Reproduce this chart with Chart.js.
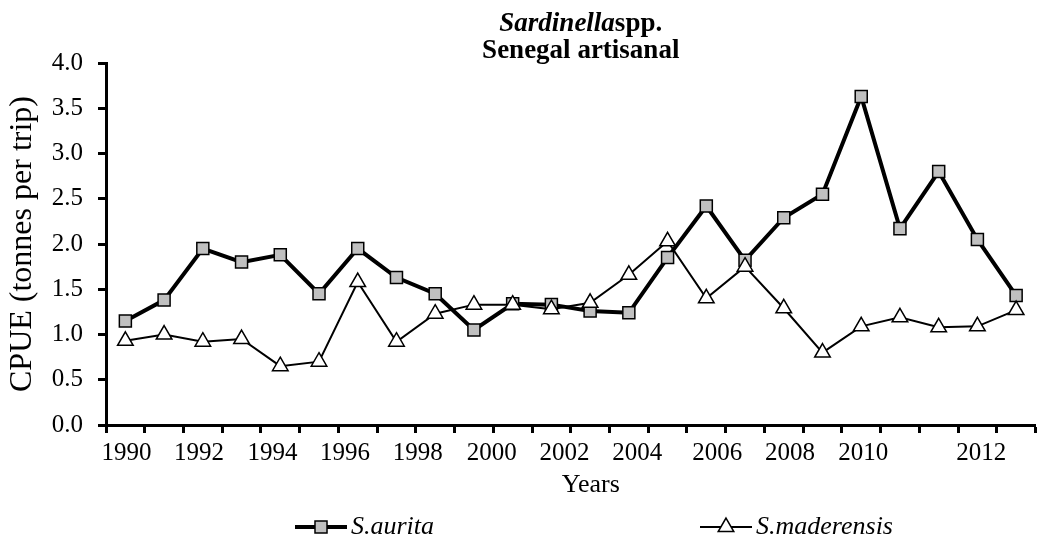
<!DOCTYPE html>
<html>
<head>
<meta charset="utf-8">
<script src="https://cdn.jsdelivr.net/npm/chart.js@4.4.0/dist/chart.umd.min.js"></script>
<style>
  html, body { margin: 0; padding: 0; background: #fff; overflow: hidden; }
  #wrap { width: 1046px; height: 545px; }
</style>
</head>
<body>
<div id="wrap"><canvas id="cpue" width="1046" height="545"></canvas></div>
<script>
// categories (one per year)
const years = ['1990', '1991', '1992', '1993', '1994', '1995', '1996', '1997',
  '1998', '1999', '2000', '2001', '2002', '2003', '2004', '2005',
  '2006', '2007', '2008', '2009', '2010', '2011', '2012', '2013'];

// CPUE, tonnes per trip
const sAurita = [1.15, 1.38, 1.95, 1.80, 1.88, 1.45, 1.95, 1.63, 1.45, 1.05, 1.34, 1.33,
  1.26, 1.24, 1.85, 2.42, 1.82, 2.29, 2.55, 3.63, 2.17, 2.80, 2.05, 1.43];
const sMaderensis = [0.93, 1.00, 0.92, 0.95, 0.65, 0.70, 1.58, 0.92, 1.23, 1.33, 1.33, 1.28,
  1.35, 1.66, 2.03, 1.40, 1.75, 1.29, 0.80, 1.09, 1.19, 1.08, 1.09, 1.27];

// year labels shown under the axis
const tickLabels = ['1990', '1992', '1994', '1996', '1998', '2000',
  '2002', '2004', '2006', '2008', '2010', '2012'];

const serif = '"Liberation Serif", "Times New Roman", serif';
Chart.defaults.font.family = serif;
Chart.defaults.font.size = 25;
Chart.defaults.color = '#000';

// where the year labels sit, in category units (the original spaces them unevenly)
const labelSlots = [0.03, 1.9, 3.8, 5.67, 7.55, 9.46, 11.34, 13.22, 15.28, 17.16, 19.05, 22.1];

// title, x axis name and legend are drawn by hand to get the mixed italics
const decorations = {
  id: 'decorations',
  afterDraw(chart) {
    const { ctx, chartArea } = chart;
    const cx = (chartArea.left + chartArea.right) / 2 + 10;
    ctx.save();
    ctx.fillStyle = '#000';
    ctx.textBaseline = 'middle';

    // line 1: "Sardinella" (italic) + "spp."
    ctx.font = 'italic bold 27px ' + serif;
    const w1 = ctx.measureText('Sardinella').width;
    ctx.font = 'bold 27px ' + serif;
    const w2 = ctx.measureText('spp.').width;
    const x = cx - (w1 + w2) / 2;
    ctx.textAlign = 'left';
    ctx.font = 'italic bold 27px ' + serif;
    ctx.fillText('Sardinella', x, 24);
    ctx.font = 'bold 27px ' + serif;
    ctx.fillText('spp.', x + w1, 24);
    ctx.textAlign = 'center';
    ctx.fillText('Senegal artisanal', cx, 51);

    // axis name
    ctx.font = '26px ' + serif;
    ctx.fillText('Years', cx + 10, 485);

    // legend: line with marker, then italic name
    const starts = [295, 700];
    const ly = 527;
    chart.data.datasets.forEach((ds, i) => {
      const x0 = starts[i];
      ctx.strokeStyle = '#000';
      ctx.lineWidth = ds.borderWidth;
      ctx.beginPath();
      ctx.moveTo(x0, ly);
      ctx.lineTo(x0 + 52, ly);
      ctx.stroke();
      ctx.fillStyle = ds.pointBackgroundColor;
      ctx.lineWidth = ds.pointBorderWidth;
      Chart.helpers.drawPoint(ctx, {
        pointStyle: ds.pointStyle,
        radius: ds.pointRadius,
        rotation: 0,
        borderWidth: ds.pointBorderWidth
      }, x0 + 26, ly);
      ctx.fillStyle = '#000';
      ctx.textAlign = 'left';
      ctx.font = 'italic 26px ' + serif;
      ctx.fillText(ds.label, x0 + 56, ly);
    });
    ctx.restore();
  }
};

new Chart(document.getElementById('cpue'), {
  type: 'line',
  data: {
    labels: years,
    datasets: [
      {
        label: 'S.aurita',
        data: sAurita,
        xAxisID: 'x',
        yAxisID: 'y',
        borderColor: '#000',
        borderWidth: 4,
        pointStyle: 'rect',
        pointRadius: 8.5,
        pointBackgroundColor: '#c0c0c0',
        pointBorderColor: '#000',
        pointBorderWidth: 1.5,
        order: 2
      },
      {
        label: 'S.maderensis',
        data: sMaderensis,
        xAxisID: 'x',
        yAxisID: 'y',
        borderColor: '#000',
        borderWidth: 2,
        pointStyle: 'triangle',
        pointRadius: 9,
        pointBackgroundColor: '#fff',
        pointBorderColor: '#000',
        pointBorderWidth: 1.5,
        order: 1
      }
    ]
  },
  options: {
    responsive: false,
    animation: false,
    layout: { padding: { top: 63, right: 2, bottom: 30, left: 0 } },
    plugins: {
      legend: { display: false },
      title: { display: false },
      tooltip: { enabled: false }
    },
    scales: {
      x: {
        type: 'category',
        weight: 0,
        offset: true,
        grid: { offset: true, drawOnChartArea: false, tickLength: 8, tickWidth: 3, tickColor: '#000' },
        border: { color: '#000', width: 3 },
        ticks: { display: false },
        afterFit: s => { s.height = 8; }
      },
      xLab: {
        type: 'linear',
        position: 'bottom',
        weight: 1,
        min: -0.5,
        max: 23.5,
        grid: { display: false },
        border: { display: false },
        ticks: { autoSkip: false, maxRotation: 0, padding: -3, callback: (v, i) => tickLabels[i] },
        afterBuildTicks: s => { s.ticks = labelSlots.map(v => ({ value: v })); },
        afterFit: s => { s.height = 82; }
      },
      y: {
        min: 0,
        max: 4,
        ticks: { stepSize: 0.5, padding: 15, callback: v => v.toFixed(1) },
        grid: { drawOnChartArea: false, tickLength: 8, tickWidth: 3, tickColor: '#000' },
        border: { color: '#000', width: 3 },
        title: {
          display: true,
          text: 'CPUE (tonnes per trip)',
          font: { size: 32 },
          padding: { top: 3, bottom: 0 }
        },
        afterFit: s => { s.width = 106; }
      }
    }
  },
  plugins: [decorations]
});
</script>
</body>
</html>
